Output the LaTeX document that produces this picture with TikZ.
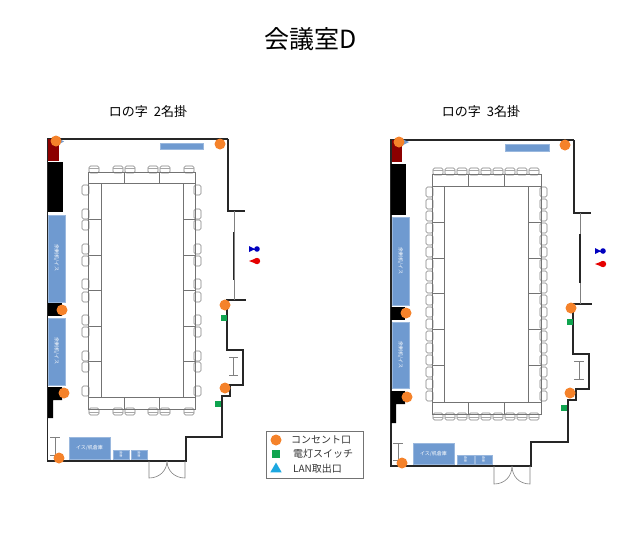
\documentclass[tikz,border=0pt]{standalone}
\usepackage{fontspec}
\setmainfont{Noto Sans CJK JP}
\usetikzlibrary{shapes.geometric}
\definecolor{shelf}{HTML}{6F9AD0}
\definecolor{outletc}{HTML}{F5822A}
\definecolor{switchc}{HTML}{0FA44F}
\definecolor{lanc}{HTML}{1CA7E0}
\tikzset{
  wall/.style={line width=1.1pt, draw=black!85},
  thinwall/.style={line width=0.6pt, draw=black!50},
  desk/.style={line width=0.6pt, draw=black!55},
  chair/.style={line width=0.6pt, draw=black!50, fill=white, rounded corners=1.5pt},
  shelfbox/.style={fill=shelf, draw=shelf!70!white, line width=0.4pt},
  solid block/.style={fill=black},
  outlet/.style={circle, fill=outletc, inner sep=0pt, minimum size=11pt},
  switch/.style={rectangle, fill=switchc, inner sep=0pt, minimum size=5.5pt},
  tag/.style={text=white, font=\fontsize{5}{5}\selectfont, inner sep=0pt},
  tagsmall/.style={text=white, font=\fontsize{3}{3}\selectfont, inner sep=0pt, rotate=-90},
  heading/.style={font=\fontsize{13}{13}\selectfont, inner sep=0pt},
  legendtext/.style={font=\fontsize{10}{10}\selectfont, inner sep=0pt, anchor=west, text=black!80},
}
\begin{document}
\begin{tikzpicture}[x=1pt, y=-1pt]
  \useasboundingbox (0,0) rectangle (628,544);

  % Rubrik
  \node[font=\fontsize{25}{25}\selectfont, inner sep=0pt] (title) at (311,39) {会議室D};
  \node[heading] (headleft) at (148,112) {ロの字 \ 2名掛};
  \node[heading] (headright) at (481,112) {ロの字 \ 3名掛};

  % Vanster plan: vaggar
  \draw[wall] (228,139) -- (47.7,139) -- (47.7,461) -- (186,461) -- (186,437) -- (222,437)
    -- (222,396) -- (230,396) -- (230,385) -- (243,385) -- (243,350) -- (227,350) -- (227,300) -- (246,300);
  \draw[wall] (228,139) -- (228,211) -- (245,211);
  \draw[thinwall] (234,211) -- (234,300);
  \draw[wall] (233.5,232) -- (233.5,280);
  \draw[thinwall] (149,461) -- (149,478) .. controls (160,478) and (167,470) .. (167,461);
  \draw[thinwall] (185,461) -- (185,478) .. controls (174,478) and (167,470) .. (167,461);
  \draw[thinwall] (50,437) -- (60,437) (55,437) -- (55,455) (50,455) -- (60,455);
  \draw[thinwall] (229,357) -- (238,357) (233,357) -- (233,375) (229,375) -- (238,375);

  % Vanster plan: stolar
  \foreach \x in {94,118,130,153,165,189} {
    \draw[chair] (\x-5,166) rectangle (\x+5,173);
    \draw[chair] (\x-5,408) rectangle (\x+5,415);
    \draw[desk, draw=black!35] (\x-5,168.5) -- (\x+5,168.5) (\x-5,412.5) -- (\x+5,412.5);
  }
  \foreach \y in {190,214,225,249,261,284,297,320,332,356,367,391} {
    \draw[chair] (82,\y-5) rectangle (89,\y+5);
    \draw[chair] (194,\y-5) rectangle (201,\y+5);
  }

  % Vanster plan: bord
  \draw[desk] (88,172) rectangle (195,183) (88,397) rectangle (195,409);
  \draw[desk] (88,183) rectangle (101,397) (183,183) rectangle (195,397);
  \foreach \x in {124,159} \draw[desk] (\x,172) -- (\x,183) (\x,397) -- (\x,409);
  \foreach \y in {219,255,290,326,361} \draw[desk] (88,\y) -- (101,\y) (183,\y) -- (195,\y);

  % Vanster plan: inredning
  \fill[fill=red!55!black] (48,139) rectangle (59,161);
  \fill[solid block] (48,162) rectangle (63,212);
  \fill[solid block] (48,303) rectangle (62,316);
  \fill[solid block] (48,387) -- (62,387) -- (62,400) -- (53,400) -- (53,418) -- (48,418) -- cycle;
  \draw[shelfbox] (48.5,215) rectangle (65,302);
  \draw[shelfbox] (48.5,318) rectangle (65,385);
  \draw[shelfbox] (160,143) rectangle (203,149);
  \draw[shelfbox] (69,437) rectangle (110,459);
  \draw[shelfbox] (113,450) rectangle (129,459);
  \draw[shelfbox] (131,450) rectangle (147,459);
  \node[tag, rotate=-90] (tagla) at (56.5,258) {余剰机/イス};
  \node[tag, rotate=-90] (taglb) at (56.5,351) {余剰机/イス};
  \node[tag] (taglc) at (89.5,448) {イス/机倉庫};
  \node[tagsmall] (tagld) at (121,454.5) {倉庫};
  \node[tagsmall] (tagle) at (139,454.5) {倉庫};
  \fill[fill=shelf] (59,138.5) -- (64,141.5) -- (59,144) -- cycle;

  % Hoger plan: vaggar
  \draw[wall] (574,140) -- (391,140) -- (391,466) -- (531,466) -- (531,442) -- (568,442)
    -- (568,400) -- (576,400) -- (576,389) -- (589,389) -- (589,354) -- (573,354) -- (573,304) -- (592,304);
  \draw[wall] (574,140) -- (574,213) -- (591,213);
  \draw[thinwall] (580.5,213) -- (580.5,304);
  \draw[wall] (580,234) -- (580,283);
  \draw[thinwall] (494,466) -- (494,484) .. controls (505,484) and (512,476) .. (512,466);
  \draw[thinwall] (530,466) -- (530,484) .. controls (519,484) and (512,476) .. (512,466);
  \draw[thinwall] (393,443) -- (403,443) (398,443) -- (398,460) (393,460) -- (403,460);
  \draw[thinwall] (574,361) -- (584,361) (579,361) -- (579,379) (574,379) -- (584,379);

  % Hoger plan: stolar
  \foreach \k in {0,...,8} {
    \draw[chair] (438+12*\k-5,168) rectangle (438+12*\k+5,175);
    \draw[chair] (438+12*\k-5,413) rectangle (438+12*\k+5,420);
    \draw[desk, draw=black!35] (438+12*\k-5,170.5) -- (438+12*\k+5,170.5) (438+12*\k-5,417.5) -- (438+12*\k+5,417.5);
  }
  \foreach \k in {0,...,17} {
    \draw[chair] (426,192+12*\k-5) rectangle (433,192+12*\k+5);
    \draw[chair] (540,192+12*\k-5) rectangle (547,192+12*\k+5);
  }

  % Hoger plan: bord
  \draw[desk] (432,174) rectangle (541,186) (432,402) rectangle (541,414);
  \draw[desk] (432,186) rectangle (444,402) (528,186) rectangle (541,402);
  \foreach \x in {468,504} \draw[desk] (\x,174) -- (\x,186) (\x,402) -- (\x,414);
  \foreach \y in {222,258,293,329,365} \draw[desk] (432,\y) -- (444,\y) (528,\y) -- (541,\y);

  % Hoger plan: inredning
  \fill[fill=red!55!black] (392,140) rectangle (402,162);
  \fill[solid block] (391,164) rectangle (406,215);
  \fill[solid block] (391,307) rectangle (405,320);
  \fill[solid block] (391,391) -- (405,391) -- (405,404) -- (396,404) -- (396,423) -- (391,423) -- cycle;
  \draw[shelfbox] (392,217) rectangle (409,305);
  \draw[shelfbox] (392,322) rectangle (409,388);
  \draw[shelfbox] (505,144) rectangle (549,151);
  \draw[shelfbox] (413,443) rectangle (454,464);
  \draw[shelfbox] (457,455) rectangle (474,464);
  \draw[shelfbox] (475,455) rectangle (492,464);
  \node[tag, rotate=-90] (tagra) at (400.5,261) {余剰机/イス};
  \node[tag, rotate=-90] (tagrb) at (400.5,355) {余剰机/イス};
  \node[tag] (tagrc) at (433.5,453.5) {イス/机倉庫};
  \node[tagsmall] (tagrd) at (465.5,459.5) {倉庫};
  \node[tagsmall] (tagre) at (483.5,459.5) {倉庫};
  \fill[fill=shelf] (403,139.5) -- (409,142) -- (403,145) -- cycle;

  % Uttag och brytare
  \node[outlet] (ola) at (56,141) {};
  \node[outlet] (olb) at (220,144) {};
  \node[outlet] (olc) at (62,310) {};
  \node[outlet] (old) at (225,305) {};
  \node[outlet] (ole) at (64,393) {};
  \node[outlet] (olf) at (225,388) {};
  \node[outlet] (olg) at (59,458) {};
  \node[outlet] (ora) at (399,142) {};
  \node[outlet] (orb) at (565,145) {};
  \node[outlet] (orc) at (406,313) {};
  \node[outlet] (ord) at (571,308) {};
  \node[outlet] (ore) at (407,397) {};
  \node[outlet] (orf) at (570,393) {};
  \node[outlet] (org) at (402,463) {};
  \node[switch] (swla) at (224,318) {};
  \node[switch] (swlb) at (218,404) {};
  \node[switch] (swra) at (570,322) {};
  \node[switch] (swrb) at (564,408) {};

  % Toalettikoner
  \foreach \x/\y in {249/249, 595/251} {
    \fill[blue!75!black] (\x,\y-3) -- (\x+6,\y) -- (\x,\y+3) -- cycle;
    \fill[blue!75!black] (\x+8,\y) circle[radius=2.8];
    \draw[blue!75!black, line width=0.8pt] (\x+4,\y) -- (\x+7,\y);
  }
  \foreach \x/\y in {249/261, 595/264} {
    \fill[red!90!black] (\x,\y) -- (\x+8,\y-3) -- (\x+8,\y+3) -- cycle;
    \fill[red!90!black] (\x+8,\y) circle[radius=3.2];
  }

  % Teckenforklaring
  \draw[line width=0.7pt, draw=black!55] (266,431) rectangle (363,478);
  \node[outlet] (legola) at (276,440) {};
  \node[switch, minimum size=8.5pt] (legsw) at (276,454) {};
  \node[regular polygon, regular polygon sides=3, fill=lanc, inner sep=0pt, minimum size=13pt] (leglan) at (276,469) {};
  \node[legendtext] (legta) at (291,440) {コンセント口};
  \node[legendtext] (legtb) at (293,454) {電灯スイッチ};
  \node[legendtext] (legtc) at (293,469) {LAN取出口};
\end{tikzpicture}
\end{document}
